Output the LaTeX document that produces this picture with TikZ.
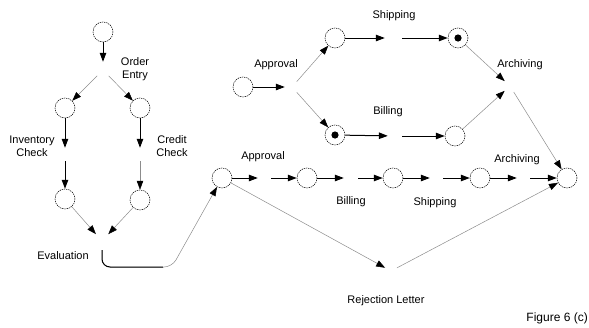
\documentclass[tikz,border=0pt]{standalone}
\usepackage{fontspec}
\setmainfont{Liberation Sans}
\usetikzlibrary{arrows.meta}
\begin{document}
\begin{tikzpicture}[x=1pt,y=-1pt,
  place/.style={circle, draw, dash pattern=on 1.3pt off 0.9pt, line width=0.5pt, minimum size=20pt, inner sep=0pt},
  marked/.style={place, path picture={\fill (path picture bounding box.center) circle (3.6pt);}},
  trans/.style={circle, minimum size=#1, inner sep=0pt},
  trans/.default=14pt,
  blk/.style={line width=1pt, -{Triangle[length=9pt,width=6.5pt]}},
  gry/.style={draw=black!45, line width=0.5pt, -{Triangle[length=9pt,width=6.5pt,color=black]}},
  lbl/.style={font=\fontsize{11}{13}\selectfont, align=center, inner sep=0pt}]
\useasboundingbox (0,0) rectangle (589,327);
% ---------- left net ----------
\node[place] (p0) at (103,32) {};
\node[trans=16pt] (tOE) at (103,70) {};
\node[place] (p1) at (65,108) {};
\node[place] (p2) at (140,108) {};
\node[trans=13pt] (tIC) at (65,154.5) {};
\node[trans=13pt] (tCC) at (140,154.5) {};
\node[place] (p3) at (65,199) {};
\node[place] (p4) at (140,200) {};
\node[trans=18pt] (tEV) at (102,241) {};
\coordinate (e1) at (102,267);
\coordinate (e2) at (172,267);
\coordinate (e3) at (163,267);
\draw[blk] (p0) -- (tOE);
\draw[gry] (tOE) -- (p1);
\draw[gry] (tOE) -- (p2);
\draw[blk] (p1) -- (tIC);
\draw[blk] (tIC) -- (p3);
\draw[blk] (p2) -- (tCC);
\draw[gry] (tCC) -- (p4);
\draw[gry] (p3) -- (tEV);
\draw[gry] (p4) -- (tEV);
\node[lbl] at (135,69) {Order\\Entry};
\node[lbl] at (32,146) {Inventory\\Check};
\node[lbl] at (172,146) {Credit\\Check};
\node[lbl] at (63,256) {Evaluation};
% ---------- lower row ----------
\node[place] (p5) at (222,178) {};
\node[trans=13pt] (tA2) at (264.5,178) {};
\node[place] (p6) at (307,178) {};
\node[trans=14pt] (tB2) at (351,178) {};
\node[place] (p7) at (393,178) {};
\node[trans=13pt] (tS2) at (436.5,178) {};
\node[place] (p8) at (480,178) {};
\node[trans=13pt] (tR2) at (523.5,178) {};
\node[place] (p9) at (567,178) {};
\node[trans=13pt] (tRJ) at (391,271) {};
\draw[gry, rounded corners=8pt] (tEV.south) -- (e1) -- (e2) -- (p5);
\draw[line width=1pt, rounded corners=8pt] (tEV.south) -- (e1) -- (e3);
\draw[blk] (p5) -- (tA2);
\draw[blk] (tA2) -- (p6);
\draw[blk] (p6) -- (tB2);
\draw[blk] (tB2) -- (p7);
\draw[blk] (p7) -- (tS2);
\draw[blk] (tS2) -- (p8);
\draw[blk] (p8) -- (tR2);
\draw[blk] (tR2) -- (p9);
\draw[gry] (p5) -- (tRJ);
\draw[gry] (tRJ) -- (p9);
\node[lbl] at (263,157) {Approval};
\node[lbl] at (351,202) {Billing};
\node[lbl] at (435,203) {Shipping};
\node[lbl] at (517,160) {Archiving};
\node[lbl] at (386,301) {Rejection Letter};
% ---------- upper net ----------
\node[place] (q0) at (243,87) {};
\node[trans=14pt] (tA1) at (292,87) {};
\node[place] (q1) at (335,38) {};
\node[marked] (q2) at (335,135) {};
\node[trans=17pt] (tS1) at (393.5,38) {};
\node[trans=14pt] (tB1) at (395,136) {};
\node[marked] (q3) at (458,38) {};
\node[place] (q4) at (455,136) {};
\node[trans=14pt] (tR1) at (510,86) {};
\draw[blk] (q0) -- (tA1);
\draw[gry] (tA1) -- (q1);
\draw[gry] (tA1) -- (q2);
\draw[blk] (q1) -- (tS1);
\draw[blk] (tS1) -- (q3);
\draw[blk] (q2) -- (tB1);
\draw[blk] (tB1) -- (q4);
\draw[gry] (q3) -- (tR1);
\draw[gry] (q4) -- (tR1);
\draw[gry] (tR1) -- (p9);
\node[lbl] at (276,65) {Approval};
\node[lbl] at (394,16) {Shipping};
\node[lbl] at (388,112) {Billing};
\node[lbl] at (520,65) {Archiving};
% ---------- caption ----------
\node[font=\fontsize{12}{14}\selectfont, anchor=north east, inner sep=0pt] (cap) at (588,313) {Figure 6 (c)};
\end{tikzpicture}
\end{document}
